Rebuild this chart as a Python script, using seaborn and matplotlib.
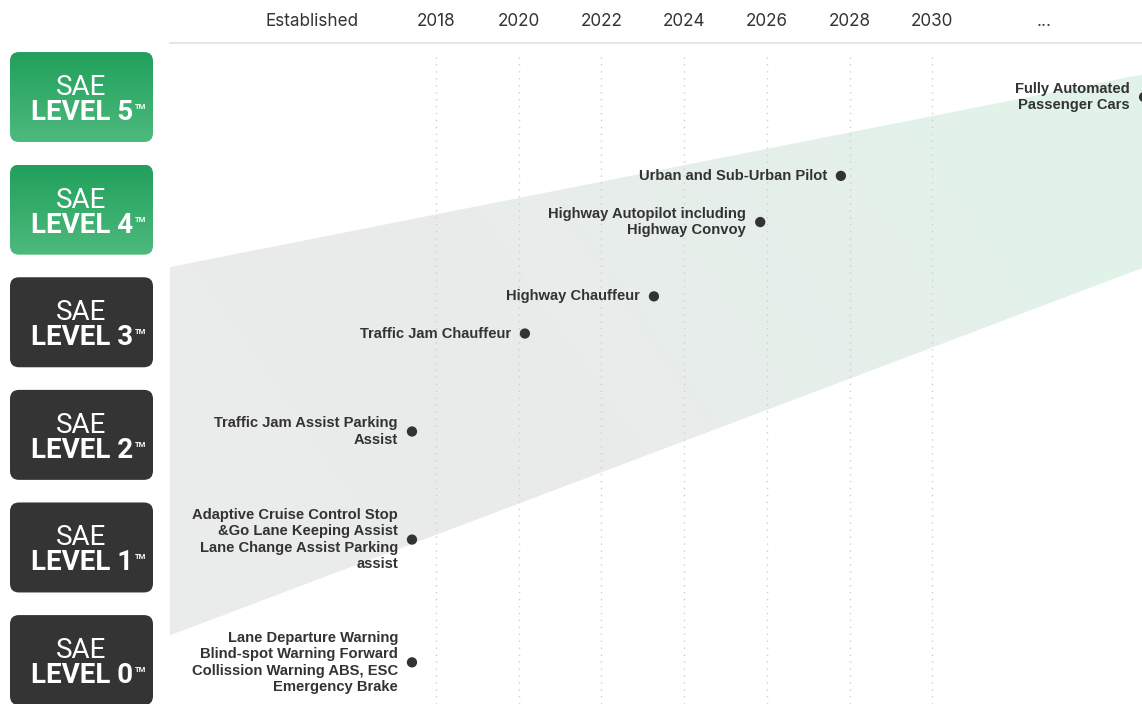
import numpy as np
import pandas as pd
import matplotlib
matplotlib.use("Agg")
import matplotlib.pyplot as plt
import seaborn as sns
from matplotlib.patches import FancyBboxPatch, Polygon
from matplotlib.colors import LinearSegmentedColormap

# ---------------- data ----------------
header_labels = ["Established", "2018", "2020", "2022", "2024", "2026", "2028", "2030", "..."]
header_pos = [2015.0, 2018, 2020, 2022, 2024, 2026, 2028, 2030, 2032.7]
grid_years = [2018, 2020, 2022, 2024, 2026, 2028, 2030]

levels = [5, 4, 3, 2, 1, 0]
level_names = ["LEVEL 5", "LEVEL 4", "LEVEL 3", "LEVEL 2", "LEVEL 1", "LEVEL 0"]
level_automated = [True, True, False, False, False, False]

features = [
    "Lane Departure Warning\nBlind-spot Warning Forward\nCollission Warning ABS, ESC\nEmergency Brake",
    "Adaptive Cruise Control Stop\n&Go Lane Keeping Assist\nLane Change Assist Parking\nassist",
    "Traffic Jam Assist Parking\nAssist",
    "Traffic Jam Chauffeur",
    "Highway Chauffeur",
    "Highway Autopilot including\nHighway Convoy",
    "Urban and Sub-Urban Pilot",
    "Fully Automated\nPassenger Cars",
]
feature_year = [2017.42, 2017.42, 2017.42, 2020.15, 2023.27, 2025.84, 2027.79, 2035.12]
feature_level = [-0.02, 1.07, 2.03, 2.90, 3.23, 3.89, 4.30, 5.00]

band_x = [2011.57, 2035.07]
band_top = [3.49, 5.20]
band_bottom = [0.22, 3.48]

X_RANGE = (2011.57, 2035.07)
Y_RANGE = (-0.39, 5.48)

# ---------------- style ----------------
sns.set_theme(style="white")
plt.rcParams["font.family"] = ["Liberation Sans", "DejaVu Sans"]
TEXT = "#333333"

W, H = 1142, 704
fig = plt.figure(figsize=(W / 100, H / 100), dpi=100)
ax = fig.add_axes([170 / W, 0, (W - 170) / W, (H - 43) / H])
axl = fig.add_axes([0, 0, 170 / W, (H - 43) / H], sharey=ax)

ax.set_xlim(*X_RANGE)
ax.set_ylim(*Y_RANGE)

# gradient band
band_cmap = LinearSegmentedColormap.from_list("band", ["#ebebeb", "#e9eceb", "#e1f3e9"])
gx = np.linspace(0, 1, 300)
gy = np.linspace(0, 1, 200)
GX, GY = np.meshgrid(gx, gy)
grad = np.clip(0.75 * GX + 0.35 * GY, 0, 1)
im = ax.imshow(grad, cmap=band_cmap, origin="lower", aspect="auto",
               extent=[X_RANGE[0], X_RANGE[1], Y_RANGE[0], Y_RANGE[1]], zorder=0,
               vmin=0, vmax=1)
verts = [(band_x[0], band_bottom[0]), (band_x[1], band_bottom[1]),
         (band_x[1], band_top[1]), (band_x[0], band_top[0])]
clip = Polygon(verts, closed=True, facecolor="none", edgecolor="none", transform=ax.transData)
ax.add_patch(clip)
im.set_clip_path(clip)
ax.set_xlim(*X_RANGE)
ax.set_ylim(*Y_RANGE)

# dotted year guides
for yr in grid_years:
    ax.axvline(yr, color="#cfcfcf", lw=1.0, ls=(0, (1, 4)), zorder=1, ymax=0.985)

# points
df = pd.DataFrame({"year": feature_year, "level": feature_level, "feature": features})
sns.scatterplot(data=df, x="year", y="level", ax=ax, color="#333333", s=55,
                edgecolor="none", zorder=5, legend=False)
for _, r in df.iterrows():
    ax.annotate(r["feature"], xy=(r["year"], r["level"]), xytext=(-14, 0),
                textcoords="offset pixels", ha="right", va="center",
                multialignment="right", fontsize=10.6, fontweight="bold",
                color=TEXT, linespacing=1.22, zorder=6, annotation_clip=False)

# header
ax.xaxis.set_ticks_position("top")
ax.set_xticks(header_pos)
ax.set_xticklabels(header_labels, fontfamily=["Inter", "DejaVu Sans"], fontsize=12.3)
ax.tick_params(axis="x", length=0, pad=9, colors=TEXT)
ax.set_yticks([])
ax.set_xlabel("")
ax.set_ylabel("")
for s in ["left", "right", "bottom"]:
    ax.spines[s].set_visible(False)
ax.spines["top"].set_color("#e2e2e2")
ax.spines["top"].set_linewidth(1.2)

# ---------------- level badges ----------------
axl.set_xlim(0, 170)
axl.axis("off")
px_per_level = (H - 43) / (Y_RANGE[1] - Y_RANGE[0])
half_h = 45 / px_per_level
green_cmap = LinearSegmentedColormap.from_list("green", ["#4dba7d", "#21a05b"])
for lvl, name, auto in zip(levels, level_names, level_automated):
    box = FancyBboxPatch((10, lvl - half_h), 143, 2 * half_h,
                         boxstyle="round,pad=0,rounding_size=9",
                         mutation_aspect=1 / px_per_level,
                         facecolor="#343434" if not auto else "none",
                         edgecolor="none", transform=axl.transData, clip_on=False)
    axl.add_patch(box)
    if auto:
        gimg = np.linspace(0, 1, 100).reshape(-1, 1)
        gi = axl.imshow(gimg, cmap=green_cmap, origin="lower", aspect="auto",
                        extent=[10, 153, lvl - half_h, lvl + half_h], clip_on=True)
        gi.set_clip_path(box)
    axl.text(81.5, lvl + 2 / px_per_level, "SAE", ha="center", va="baseline",
             color="white", fontsize=20, fontweight="normal",
             fontfamily=["Roboto", "DejaVu Sans"])
    lt = axl.text(82.5, lvl - 23 / px_per_level, name, ha="center", va="baseline",
                  color="white", fontsize=20, fontweight="bold",
                  fontfamily=["Roboto", "DejaVu Sans"])
    axl.annotate("TM", xy=(1, 1), xycoords=lt, xytext=(1, -4),
                 textcoords="offset pixels", ha="left", va="top",
                 color="white", fontsize=5.5, fontweight="bold",
                 fontfamily=["Roboto", "DejaVu Sans"])
axl.set_xlim(0, 170)
ax.set_ylim(*Y_RANGE)

fig.savefig("out.png", dpi=100, facecolor="white")
